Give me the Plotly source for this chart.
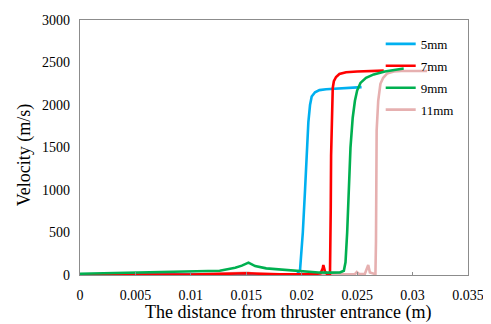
import plotly.graph_objects as go

# ---- data ----
x_5mm = [0, 0.005, 0.01, 0.015, 0.018, 0.0196, 0.01985, 0.0200, 0.0201, 0.0203, 0.02045, 0.0206, 0.02075, 0.0209, 0.0212, 0.0216, 0.0222, 0.023, 0.024, 0.0254]
y_5mm = [8, 8, 8, 10, 10, 12, 60, 300, 500, 1000, 1500, 1800, 2000, 2100, 2150, 2175, 2185, 2192, 2198, 2210]

x_7mm = [0, 0.005, 0.01, 0.015, 0.018, 0.021, 0.0217, 0.0219, 0.02195, 0.0221, 0.0223, 0.02255, 0.0226, 0.02262, 0.02265, 0.0227, 0.02275, 0.0228, 0.0229, 0.0231, 0.0234, 0.024, 0.025, 0.026, 0.0274]
y_7mm = [5, 5, 5, 20, 8, 8, 20, 80, 118, 40, 10, 10, 300, 800, 1400, 1800, 2050, 2200, 2280, 2330, 2365, 2385, 2395, 2400, 2405]

x_9mm = [0, 0.002, 0.005, 0.008, 0.01, 0.0126, 0.014, 0.0146, 0.0152, 0.0158, 0.0168, 0.018, 0.01955, 0.0208, 0.0215, 0.0225, 0.02345, 0.0238, 0.02395, 0.0241, 0.02425, 0.0244, 0.0246, 0.0248, 0.025, 0.0253, 0.0258, 0.0265, 0.0275, 0.0285, 0.0292]
y_9mm = [15, 20, 28, 34, 39, 50, 86, 110, 145, 105, 78, 65, 50, 40, 30, 28, 30, 50, 150, 500, 1000, 1500, 1850, 2050, 2170, 2260, 2320, 2360, 2395, 2420, 2430]

x_11mm = [0, 0.005, 0.01, 0.0148, 0.0152, 0.016, 0.02, 0.024, 0.0248, 0.02497, 0.0252, 0.0257, 0.0259, 0.0260, 0.02615, 0.0265, 0.02665, 0.0267, 0.02672, 0.02676, 0.0269, 0.0271, 0.02735, 0.0277, 0.0283, 0.029, 0.0313]
y_11mm = [3, 3, 5, 25, 25, 5, 5, 5, 10, 35, 10, 15, 70, 118, 30, 10, 10, 400, 1000, 1700, 2050, 2250, 2320, 2370, 2395, 2400, 2400]

series = [
    ("5mm", x_5mm, y_5mm, "#00B0F0"),
    ("7mm", x_7mm, y_7mm, "#FF0000"),
    ("9mm", x_9mm, y_9mm, "#00B050"),
    ("11mm", x_11mm, y_11mm, "#E6B0B0"),
]

x_ticks = [0, 0.005, 0.01, 0.015, 0.02, 0.025, 0.03, 0.035]
x_ticklabels = ["0", "0.005", "0.01", "0.015", "0.02", "0.025", "0.03", "0.035"]
y_ticks = [0, 500, 1000, 1500, 2000, 2500, 3000]
x_title = "The distance from thruster entrance (m)"
y_title = "Velocity (m/s)"

FONT = "Times New Roman"

fig = go.Figure()
draw_order = [3, 0, 1, 2]
for i in draw_order:
    name, xs, ys, col = series[i]
    fig.add_trace(go.Scatter(x=xs, y=ys, mode="lines", name=name,
                             line=dict(color=col, width=2.6),
                             legendgroup=name, legendrank=i + 1))

# page body has an 8px margin: size the figure so the plot lands where the reference has it
fig.update_layout(
    width=483, height=316,
    margin=dict(l=72, r=23, t=12, b=49, autoexpand=False),
    paper_bgcolor="white", plot_bgcolor="white",
    font=dict(family=FONT, size=14, color="black"),
    showlegend=True,
    legend=dict(x=0.775, y=0.965, xanchor="left", yanchor="top",
                bgcolor="rgba(0,0,0,0)", font=dict(size=13, family=FONT),
                tracegroupgap=2, itemwidth=30),
    annotations=[
        dict(text=x_title, xref="paper", yref="paper", x=0.535, y=-0.149,
             xanchor="center", yanchor="middle", showarrow=False,
             font=dict(size=18, family=FONT, color="black")),
        dict(text=y_title, xref="paper", yref="paper", x=-0.142, y=0.469,
             xanchor="center", yanchor="middle", showarrow=False, textangle=-90,
             font=dict(size=18, family=FONT, color="black")),
    ],
)
fig.update_xaxes(
    range=[0, 0.035], tickvals=x_ticks, ticktext=x_ticklabels, automargin=False,
    showgrid=False, zeroline=False, showline=True, linecolor="#8c8c8c", linewidth=1.2,
    mirror=True, ticks="inside", ticklen=3, tickcolor="#8c8c8c",
    tickfont=dict(size=14, family=FONT), ticklabelstandoff=7,
)
fig.update_yaxes(
    range=[0, 3000], tickvals=y_ticks, automargin=False,
    showgrid=False, zeroline=False, showline=True, linecolor="#8c8c8c", linewidth=1.2,
    mirror=True, ticks="", tickfont=dict(size=14, family=FONT), ticklabelstandoff=6,
)

fig.write_html("out.html")
